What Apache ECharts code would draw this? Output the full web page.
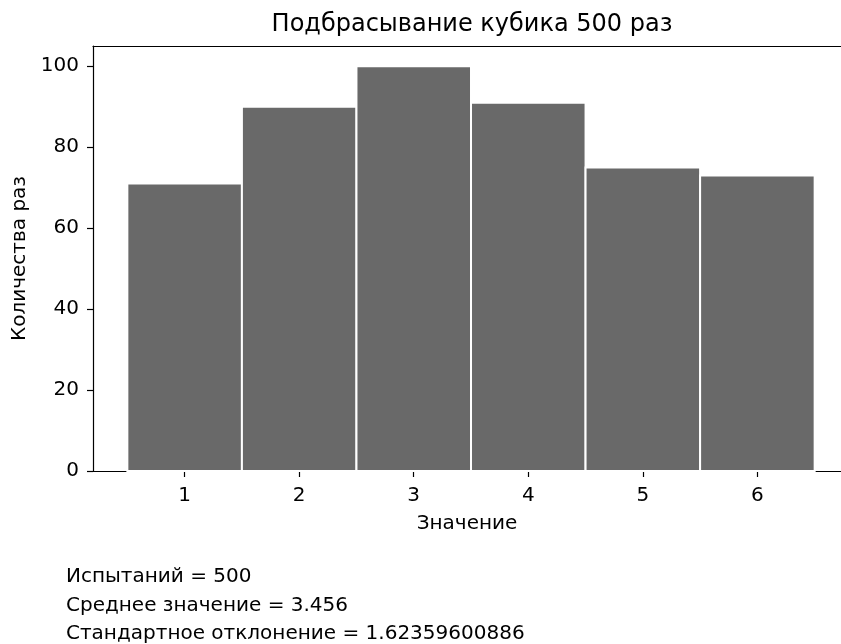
<!DOCTYPE html>
<html>
<head>
<meta charset="utf-8">
<script src="https://cdn.jsdelivr.net/npm/echarts@6/dist/echarts.min.js"></script>
<style>html,body{margin:0;padding:0;background:#fff;}#c{width:841px;height:644px;}</style>
</head>
<body>
<div id="c"></div>
<script>
const faces = [1, 2, 3, 4, 5, 6];
const counts = [71, 90, 100, 91, 75, 73];
const yTicks = [0, 20, 40, 60, 80, 100];
const titleText = 'Подбрасывание кубика 500 раз';
const xName = 'Значение';
const yName = 'Количества раз';
const statsLines = ['Испытаний = 500', 'Среднее значение = 3.456', 'Стандартное отклонение = 1.62359600886'];

const FONT = 'DejaVu Sans';
const X_MIN = 0.2, X_MAX = 6.73;
const chart = echarts.init(document.getElementById('c'), null, {renderer: 'canvas'});
const binWidth = 1;
chart.setOption({
  animation: false,
  backgroundColor: '#fff',
  textStyle: {fontFamily: FONT, color: '#000'},
  title: {
    text: titleText, left: 472, top: 13, textAlign: 'center', padding: 0,
    textStyle: {fontFamily: FONT, fontSize: 24, fontWeight: 'normal', color: '#000'}
  },
  grid: {left: 93, top: 46, right: 0, height: 425, show: false},
  xAxis: [{
    type: 'value', min: X_MIN, max: X_MAX, position: 'bottom',
    name: xName, nameLocation: 'middle', nameGap: 43,
    nameTextStyle: {fontFamily: FONT, fontSize: 20, color: '#000'},
    axisLine: {show: true, lineStyle: {color: '#000', width: 1.2}},
    axisTick: {show: true, length: 6, lineStyle: {color: '#000', width: 1.2}, customValues: faces},
    axisLabel: {fontFamily: FONT, fontSize: 20, color: '#000', margin: 15, customValues: faces},
    splitLine: {show: false}
  }, {
    type: 'value', min: X_MIN, max: X_MAX, position: 'top',
    axisLine: {show: true, lineStyle: {color: '#000', width: 1.2}},
    axisTick: {show: false}, axisLabel: {show: false}, splitLine: {show: false}
  }],
  yAxis: {
    type: 'value', min: 0, max: 105,
    name: yName, nameLocation: 'middle', nameGap: 57,
    nameTextStyle: {fontFamily: FONT, fontSize: 20, color: '#000'},
    axisLine: {show: true, lineStyle: {color: '#000', width: 1.2}},
    axisTick: {show: true, length: 6, lineStyle: {color: '#000', width: 1.2}, customValues: yTicks},
    axisLabel: {fontFamily: FONT, fontSize: 20, color: '#000', margin: 14, customValues: yTicks},
    splitLine: {show: false}
  },
  series: [{
    type: 'custom',
    xAxisIndex: 0,
    data: faces.map((f, i) => [f, counts[i]]),
    encode: {x: 0, y: 1},
    renderItem: function (params, api) {
      const x = api.value(0), y = api.value(1);
      const p0 = api.coord([x - binWidth / 2, y]);
      const p1 = api.coord([x + binWidth / 2, 0]);
      return {
        type: 'rect',
        shape: {x: p0[0], y: p0[1], width: p1[0] - p0[0], height: p1[1] - p0[1]},
        style: {fill: '#696969', stroke: '#ffffff', lineWidth: 2}
      };
    }
  }],
  graphic: statsLines.map((t, i) => ({
    type: 'text', left: 66, top: 567 + i * 28.5,
    style: {text: t, fontFamily: FONT, fontSize: 20, fill: '#000'}
  }))
});
</script>
</body>
</html>
